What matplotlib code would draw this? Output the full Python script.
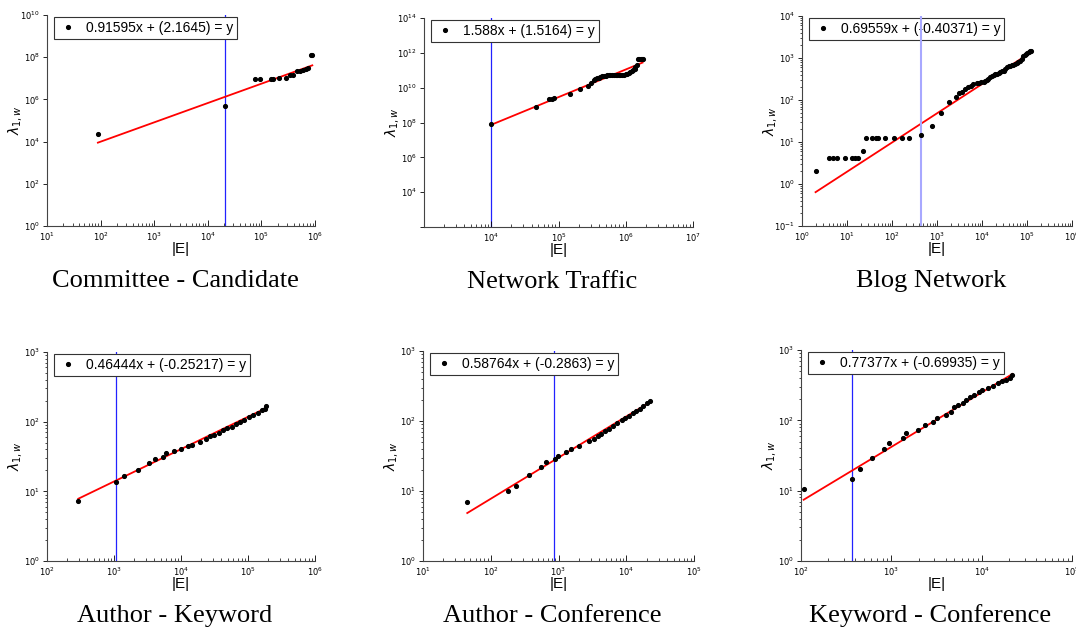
import matplotlib
matplotlib.use('Agg')
import numpy as np
import matplotlib.pyplot as plt
from matplotlib.ticker import FixedLocator, FuncFormatter, LogLocator, NullLocator

# --- Committee - Candidate ---
cc_edges = [89, 2.05e4, 7.7e4, 9.5e4, 1.48e5, 1.66e5, 2.14e5, 2.88e5, 3.39e5,
            3.89e5, 4.57e5, 5.25e5, 6.03e5, 6.76e5, 7.41e5, 8.32e5, 8.91e5]
cc_lambda = [2.2e4, 4.9e5, 9.5e6, 9.5e6, 9.5e6, 9.5e6, 1.07e7, 1.07e7, 1.45e7,
             1.45e7, 2.24e7, 2.34e7, 2.45e7, 2.75e7, 3.09e7, 1.26e8, 1.26e8]
cc_fit = (0.91595, 2.1645)
cc_mark = 2.05e4

# --- Network Traffic ---
nt_edges = [1.0e4, 4.6e4, 7.2e4, 7.9e4, 8.7e4, 1.5e5, 2.1e5, 2.7e5, 3.0e5, 3.4e5,
            3.5e5, 3.8e5, 4.0e5, 4.2e5, 4.5e5, 4.7e5, 5.0e5, 5.2e5, 5.6e5, 5.9e5,
            6.3e5, 6.6e5, 7.1e5, 7.4e5, 7.9e5, 8.3e5, 8.9e5, 9.3e5, 1.0e6, 1.05e6,
            1.12e6, 1.17e6, 1.23e6, 1.29e6, 1.35e6, 1.38e6, 1.48e6, 1.51e6, 1.58e6,
            1.66e6, 1.74e6, 1.78e6]
nt_lambda = [7.8e7, 7.6e8, 2.1e9, 2.3e9, 2.7e9, 4.6e9, 8.1e9, 1.3e10, 1.9e10, 2.6e10,
             3.0e10, 3.4e10, 3.8e10, 4.0e10, 4.4e10, 4.6e10, 4.9e10, 5.0e10, 5.2e10, 5.4e10,
             5.5e10, 5.6e10, 5.4e10, 5.2e10, 5.1e10, 5.2e10, 5.4e10, 5.5e10, 5.9e10, 6.3e10,
             7.2e10, 8.3e10, 9.5e10, 1.1e11, 1.26e11, 1.48e11, 2.1e11, 4.3e11, 4.4e11,
             4.5e11, 4.6e11, 4.5e11]
nt_fit = (1.588, 1.5164)
nt_mark = 1.0e4

# --- Blog Network ---
bn_edges = [2, 3.9, 4.9, 6.0, 8.9, 12.6, 14.8, 17.5, 23, 27, 36, 43, 50, 69, 110,
            163, 240, 440, 760, 1230, 1820, 2600, 3160, 3630, 4270, 5010, 5750,
            6460, 7760, 8510, 9550, 1.1e4, 1.17e4, 1.29e4, 1.38e4, 1.51e4, 1.66e4,
            1.82e4, 1.95e4, 2.14e4, 2.34e4, 2.57e4, 2.75e4, 3.02e4, 3.31e4, 3.63e4,
            3.98e4, 4.27e4, 4.57e4, 5.01e4, 5.5e4, 6.03e4, 6.46e4, 7.08e4, 7.59e4,
            8.32e4, 8.91e4, 9.55e4, 1.02e5, 1.1e5, 1.17e5, 1.23e5]
bn_lambda = [2, 4.1, 4.1, 4.1, 4.1, 4.1, 4.1, 4.1, 6.2, 12.2, 12.2, 12.2, 12.2, 12.2, 12.2,
             12.2, 12.2, 14.7, 23.6, 48, 90, 118, 147, 158, 178, 200, 219,
             240, 251, 257, 269, 275, 288, 302, 324, 347, 372,
             398, 417, 427, 437, 457, 479, 501, 550, 603,
             631, 661, 676, 692, 724, 759, 794, 871, 955,
             1096, 1175, 1259, 1318, 1380, 1445, 1479]
bn_fit = (0.69559, -0.40371)
bn_mark = 440

# --- Author - Keyword ---
ak_edges = [293, 1070, 1410, 2290, 3300, 4100, 5400, 6000, 7800, 1.0e4, 1.26e4, 1.45e4,
            1.9e4, 2.34e4, 2.75e4, 3.09e4, 3.63e4, 4.17e4, 4.79e4, 5.75e4, 6.61e4,
            7.59e4, 8.71e4, 1.02e5, 1.2e5, 1.41e5, 1.62e5, 1.78e5, 1.86e5]
ak_lambda = [7.3, 13.5, 16.8, 20, 25.4, 29.6, 31.6, 35, 38, 40, 44.6, 46,
             51, 57, 61.6, 65, 69, 75, 80, 85, 93,
             98.6, 107, 115, 124, 134, 146, 154, 166]
ak_fit = (0.46444, -0.25217)
ak_mark = 1070

# --- Author - Conference ---
ac_edges = [45, 180, 235, 370, 550, 660, 890, 980, 1290, 1540, 2000, 2840, 3320, 3800,
            4270, 4900, 5500, 6310, 7410, 8510, 9550, 1.1e4, 1.26e4, 1.41e4, 1.58e4,
            1.78e4, 2.0e4, 2.24e4]
ac_lambda = [6.9, 10, 11.7, 17, 21.9, 25.6, 29, 32, 36, 40, 44, 51.6, 56, 62,
             66, 71, 78, 85, 93, 102, 110, 118, 129, 139, 150,
             165, 178, 194]
ac_fit = (0.58764, -0.2863)
ac_mark = 870

# --- Keyword - Conference ---
kc_edges = [107, 365, 446, 614, 830, 940, 1350, 1470, 1960, 2350, 2900, 3240, 4000,
            4540, 5000, 5500, 6170, 6760, 7410, 8320, 9330, 1.02e4, 1.17e4, 1.32e4,
            1.51e4, 1.7e4, 1.86e4, 2.04e4, 2.19e4]
kc_lambda = [10.5, 14.6, 20.3, 29.5, 39, 48, 56, 65, 73, 85, 95, 107, 120,
             132, 155, 166, 178, 196, 213, 231, 252, 267, 289, 310,
             334, 358, 380, 406, 438]
kc_fit = (0.77377, -0.69935)
kc_mark = 365

W, H = 1076, 629

# title, data, fit, marker line, axes box in px (left, top, right, bottom),
# x decades, y decades, labelled x decades, labelled y decades, y tick step,
# marker line style (colour, width, drawn over legend)
panels = [
    ("Committee - Candidate", cc_edges, cc_lambda, cc_fit, cc_mark, (47, 15, 315, 226),
     (1, 6), (0, 10), range(1, 7), range(0, 11, 2), 2, ('#2222ff', 0.9, False)),
    ("Network Traffic", nt_edges, nt_lambda, nt_fit, nt_mark, (424, 18, 693, 227),
     (3, 7), (2, 14), range(4, 8), range(4, 15, 2), 2, ('#2222ff', 0.9, False)),
    ("Blog Network", bn_edges, bn_lambda, bn_fit, bn_mark, (802, 16, 1072, 226),
     (0, 6), (-1, 4), range(0, 7), range(-1, 5), 1, ('#a8a8ff', 1.5, True)),
    ("Author - Keyword", ak_edges, ak_lambda, ak_fit, ak_mark, (47, 352, 315, 561),
     (2, 6), (0, 3), range(2, 7), range(0, 4), 1, ('#2222ff', 0.9, False)),
    ("Author - Conference", ac_edges, ac_lambda, ac_fit, ac_mark, (423, 351, 694, 561),
     (1, 5), (0, 3), range(1, 6), range(0, 4), 1, ('#2222ff', 0.9, False)),
    ("Keyword - Conference", kc_edges, kc_lambda, kc_fit, kc_mark, (801, 350, 1072, 561),
     (2, 5), (0, 3), range(2, 6), range(0, 4), 1, ('#2222ff', 0.9, False)),
]


def pow_label(shown):
    shown = set(shown)

    def fmt(v, pos):
        e = int(round(np.log10(v)))
        return r'$10^{%d}$' % e if e in shown else ''
    return fmt


def draw_panel(fig, spec):
    title, edges, lam, fit, mark, box, xd, yd, xshow, yshow, ystep, mstyle = spec
    l, t, r, b = box
    ax = fig.add_axes([l / W, 1 - b / H, (r - l) / W, (b - t) / H])
    ax.set_xscale('log')
    ax.set_yscale('log')

    mcolor, mwidth, on_top = mstyle
    ax.axvline(mark, color=mcolor, lw=mwidth, zorder=10 if on_top else 1)

    xs = np.sort(np.asarray(edges, dtype=float))
    slope, icpt = fit
    ax.plot(xs, 10 ** icpt * xs ** slope, color='red', lw=1.3, zorder=2)

    label = '{}x + ({}) = y'.format(slope, icpt)
    ax.plot(edges, lam, 'o', color='black', ms=2.7, ls='none', label=label, zorder=11)

    ax.set_xlim(10 ** xd[0], 10 ** xd[1])
    ax.set_ylim(10 ** yd[0], 10 ** yd[1])

    ax.xaxis.set_major_locator(FixedLocator([10.0 ** e for e in range(xd[0], xd[1] + 1)]))
    ax.xaxis.set_major_formatter(FuncFormatter(pow_label(xshow)))
    ax.xaxis.set_minor_locator(LogLocator(base=10, subs=np.arange(2, 10), numticks=50))
    ax.yaxis.set_major_locator(FixedLocator([10.0 ** e for e in range(yd[0], yd[1] + 1, ystep)]))
    ax.yaxis.set_major_formatter(FuncFormatter(pow_label(yshow)))
    if ystep == 1:
        ax.yaxis.set_minor_locator(LogLocator(base=10, subs=np.arange(2, 10), numticks=50))
    else:
        ax.yaxis.set_minor_locator(NullLocator())

    ax.tick_params(axis='x', which='major', direction='in', length=4, width=0.6,
                   labelsize=6, pad=3)
    ax.tick_params(axis='x', which='minor', direction='in', length=2, width=0.5)
    ax.tick_params(axis='y', which='major', direction='out', length=3, width=0.6,
                   labelsize=6, pad=2)
    ax.tick_params(axis='y', which='minor', direction='out', length=1.5, width=0.5)

    for side in ('top', 'right'):
        ax.spines[side].set_visible(False)
    for side in ('left', 'bottom'):
        ax.spines[side].set_linewidth(0.8)
        ax.spines[side].set_color('#444444')

    ax.set_xlabel('|E|', fontsize=11)
    ax.xaxis.set_label_coords(0.5, -0.075)
    ax.set_ylabel(r'$\lambda_{1,w}$', fontsize=10)
    ax.yaxis.set_label_coords(-0.085, 0.5)

    leg = ax.legend(loc='upper left', bbox_to_anchor=(0.025, 0.99), borderaxespad=0,
                    fontsize=10, handlelength=1.4, handletextpad=0.6, borderpad=0.3,
                    fancybox=False, framealpha=1, edgecolor='#333333')
    leg.get_frame().set_linewidth(0.8)
    leg.set_zorder(5)

    cx = (l + r) / 2 - 6
    fig.text(cx / W, 1 - (b + 55) / H, title, ha='center', va='center',
             fontsize=19, family='Liberation Serif')
    return ax


plt.rcParams['font.family'] = ['Liberation Sans', 'DejaVu Sans']
plt.rcParams['mathtext.fontset'] = 'dejavusans'

fig = plt.figure(figsize=(W / 100, H / 100), dpi=100)
for spec in panels:
    draw_panel(fig, spec)

fig.savefig('out.png', dpi=100)
